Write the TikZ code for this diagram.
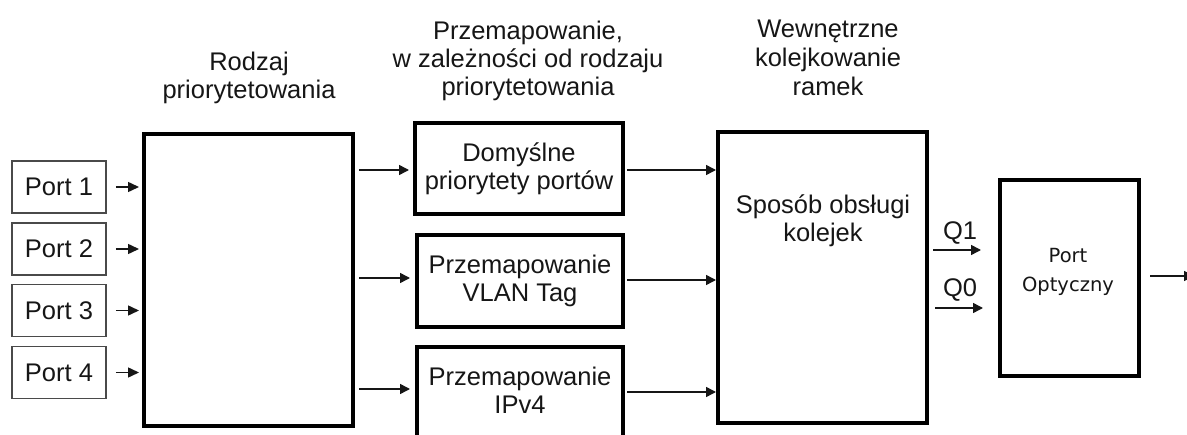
\documentclass[tikz,border=0pt]{standalone}
\usepackage{fontspec}
\setmainfont{Liberation Sans}
\newfontfamily\smallsans{DejaVu Sans}
\usetikzlibrary{arrows.meta,calc}
\definecolor{ink}{HTML}{161616}
\definecolor{frame}{HTML}{4A4A4A}
\begin{document}
\begin{tikzpicture}[x=1pt,y=-1pt,
  txt/.style={font=\fontsize{25.5}{28}\selectfont, text=ink, align=center, inner sep=0pt},
  thickbox/.style={draw=black, line width=4pt, inner sep=0pt, fill=white},
  portbox/.style={draw=frame, line width=1.5pt, minimum width=94pt, minimum height=52pt,
    inner sep=0pt, font=\fontsize{25.5}{28}\selectfont, text=ink},
  flow/.style={line width=1.5pt, draw=ink, -{Triangle[length=10pt,width=10pt]}},
  shortflow/.style={line width=1.5pt, draw=ink, -{Triangle[length=11pt,width=10pt]}}]
\useasboundingbox (0,0) rectangle (1187,435);
\clip (0,0) rectangle (1187,435);

% column headings
\node[txt] (h1) at (249,78) {Rodzaj\\priorytetowania};
\node[txt] (h2) at (528,61) {Przemapowanie,\\w zależności od rodzaju\\priorytetowania};
\node[txt, font=\fontsize{25.5}{29}\selectfont] (h3) at (828,58) {Wewnętrzne\\kolejkowanie\\ramek};

% input ports
\node[portbox] (p1) at (59,187) {Port 1};
\node[portbox] (p2) at (59,249) {Port 2};
\node[portbox] (p3) at (59,310.5) {Port 3};
\node[portbox] (p4) at (59,372.5) {Port 4};

% prioritisation block
\node[thickbox, minimum width=209pt, minimum height=292pt] (sel) at (248.5,280) {};

% remapping blocks
\node[thickbox, minimum width=208pt, minimum height=91pt, txt] (dom) at (519,168.5)
  {Domyślne\\priorytety portów};
\node[thickbox, minimum width=206pt, minimum height=92pt, txt] (vlan) at (520,281)
  {Przemapowanie\\VLAN Tag};
\node[thickbox, minimum width=206pt, minimum height=92pt] (ip) at (520,393) {};
\node[txt] (iptxt) at (520,390) {Przemapowanie\\IPv4};

% queue handling block
\node[thickbox, minimum width=209pt, minimum height=291pt] (q) at (822.5,277.5) {};
\node[txt] (qtxt) at (823,221) {Sposób obsługi\\kolejek};

% optical port
\node[thickbox, minimum width=139pt, minimum height=196pt] (opt) at (1069.5,278) {};
\node[txt, font=\smallsans\fontsize{19.5}{29}\selectfont] (opttxt) at (1068,272) {Port\\Optyczny};

% ports into prioritisation block
\foreach \p in {p1,p2,p3,p4}
  \draw[shortflow] ($(\p.east)+(9,0)$) -- ($(\p.east -| sel.west)+(-3,0)$);

% prioritisation block to remapping blocks
\coordinate (a1) at (359,170);
\coordinate (a2) at (359,278);
\coordinate (a3) at (359,389);
\draw[flow] (a1) -- ($(a1 -| dom.west)+(-4,0)$);
\draw[flow] (a2) -- ($(a2 -| vlan.west)+(-5,0)$);
\draw[flow] (a3) -- ($(a3 -| ip.west)+(-5,0)$);

% remapping blocks to queue handling block
\coordinate (b1) at (627,170);
\coordinate (b2) at (627,280);
\coordinate (b3) at (627,392);
\draw[flow] (b1) -- (b1 -| q.west);
\draw[flow] (b2) -- (b2 -| q.west);
\draw[flow] (b3) -- (b3 -| q.west);

% queues to optical port
\coordinate (c1) at (933,250);
\coordinate (c0) at (935,308);
\draw[flow] (c1) -- ($(c1 -| opt.west)+(-17,0)$);
\draw[flow] (c0) -- ($(c0 -| opt.west)+(-15,0)$);
\node[txt] (lq1) at (960,233) {Q1};
\node[txt] (lq0) at (960,290) {Q0};

% output of the optical port
\coordinate (out) at (1194,276);
\draw[flow] ($(opt.east |- out)+(9,0)$) -- (out);
\end{tikzpicture}
\end{document}
